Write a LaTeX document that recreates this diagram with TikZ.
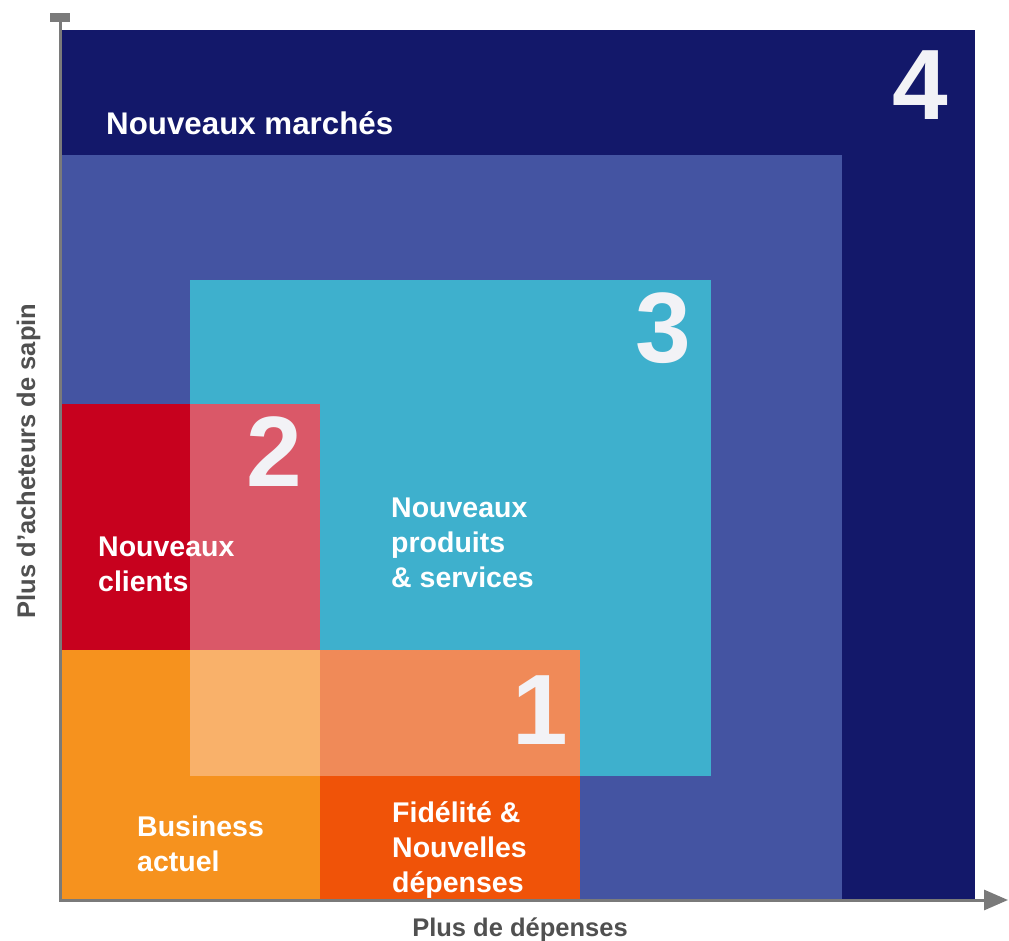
\documentclass[tikz,border=0pt]{standalone}
\usepackage{fontspec}
\setmainfont{Liberation Sans}
\usetikzlibrary{arrows.meta}
\definecolor{navy}{HTML}{13186A}
\definecolor{midblue}{HTML}{4454A2}
\definecolor{cyanb}{HTML}{3EB0CD}
\definecolor{deepred}{HTML}{C7011E}
\definecolor{pinkred}{HTML}{DA5868}
\definecolor{orangeb}{HTML}{F6921E}
\definecolor{lightorange}{HTML}{F9B16A}
\definecolor{salmon}{HTML}{F08A58}
\definecolor{redorange}{HTML}{F05308}
\definecolor{numwhite}{HTML}{F2F2F6}
\definecolor{axgray}{HTML}{7A7A7A}
\definecolor{lblgray}{HTML}{505050}
\begin{document}
\begin{tikzpicture}[x=1pt,y=-1pt,
  lbl/.style={text=white,font=\bfseries\fontsize{28.5}{35}\selectfont,anchor=base west,inner sep=0pt},
  num/.style={text=numwhite,font=\bfseries\fontsize{100}{100}\selectfont,inner sep=0pt},
  axlbl/.style={text=lblgray,font=\bfseries\fontsize{25.5}{30}\selectfont,inner sep=0pt,anchor=base},
  axis/.style={draw=axgray,line width=3pt}]
\useasboundingbox (0,0) rectangle (1009,941);
% regions
\fill[navy] (62,30) rectangle (975,900);
\fill[midblue] (62,155) rectangle (842,900);
\fill[cyanb] (190,280) rectangle (711,776);
\fill[deepred] (62,404) rectangle (190,650);
\fill[pinkred] (190,404) rectangle (320,650);
\fill[orangeb] (62,650) rectangle (320,900);
\fill[lightorange] (190,650) rectangle (320,776);
\fill[salmon] (320,650) rectangle (580,776);
\fill[redorange] (320,776) rectangle (580,900);
% numbers
\node[num] (n4) at (920,85) {4};
\node[num] (n3) at (663,328) {3};
\node[num] (n2) at (274,452) {2};
\node[num] (n1) at (540,710) {1};
% labels
\node[lbl,font=\bfseries\fontsize{31.3}{36}\selectfont] (nm) at (106,135) {Nouveaux marchés};
\node[lbl] (np1) at (391,517) {Nouveaux};
\node[lbl] (np2) at (391,552) {produits};
\node[lbl] (np3) at (391,587) {\& services};
\node[lbl] (nc1) at (98,556) {Nouveaux};
\node[lbl] (nc2) at (98,591) {clients};
\node[lbl] (ba1) at (137,836) {Business};
\node[lbl] (ba2) at (137,871) {actuel};
\node[lbl] (fd1) at (392,822) {Fidélité \&};
\node[lbl] (fd2) at (392,857) {Nouvelles};
\node[lbl] (fd3) at (392,892) {dépenses};
% axes
\coordinate (ytop) at (60,13);
\coordinate (origin) at (60,900);
\coordinate (xend) at (1008,900);
\draw[axis,{Rectangle[length=9pt,width=20pt]}-{Triangle[length=24pt,width=20pt]}] (ytop) -- (origin) -- (xend);
\node[axlbl] (xl) at (520,936) {Plus de dépenses};
\node[axlbl,rotate=90] (yl) at (35,461) {Plus d’acheteurs de sapin};
\end{tikzpicture}
\end{document}
